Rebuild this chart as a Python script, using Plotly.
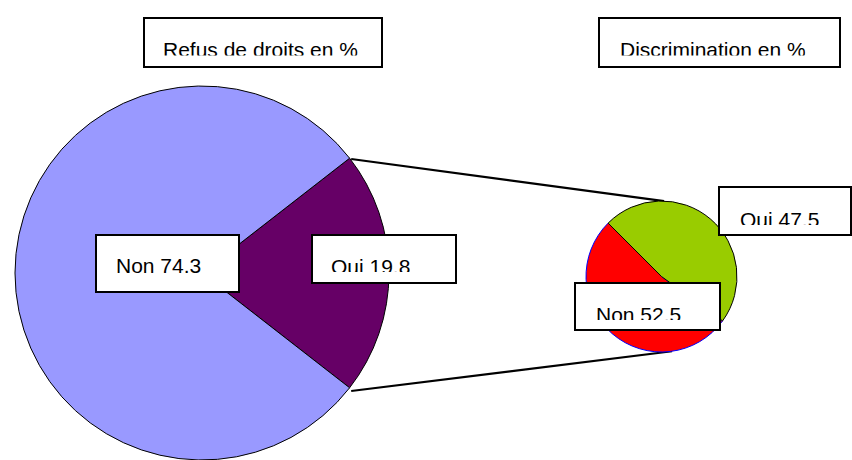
import math
import plotly.graph_objects as go

# ---- data ----
refus_labels = ["Oui", "Non"]
refus_values = [19.8, 74.3]
refus_colors = ["#660066", "#9999FF"]

discr_labels = ["Non", "Oui"]
discr_values = [52.5, 47.5]
discr_colors = ["#FF0000", "#99CC00"]

titles = ["Refus de droits en %", "Discrimination en %"]

W, H = 852, 460
FONT = "Liberation Sans, Arial, sans-serif"
FS = 21

fig = go.Figure()

# geometry (pixels)
big_cx, big_cy, big_r = 202, 275, 189
sm_cx, sm_cy, sm_r = 661.5, 276.5, 75.5


def dom_x(cx, r):
    return [(cx - r) / W, (cx + r) / W]


def dom_y(cy, r):
    top = max(cy - r, 0)
    bot = min(cy + r, H)
    return [1 - bot / H, 1 - top / H]


# big pie: "Oui" slice centred on 3 o'clock
oui_frac = refus_values[0] / sum(refus_values)
oui_span = 360 * oui_frac
big_rot = 90 - oui_span / 2

fig.add_trace(go.Pie(
    labels=refus_labels, values=refus_values, sort=False, direction="clockwise",
    rotation=big_rot, textinfo="none", hoverinfo="label+value",
    marker=dict(colors=refus_colors, line=dict(color="black", width=1)),
    domain=dict(x=dom_x(big_cx, big_r), y=dom_y(big_cy, big_r)),
    showlegend=False,
))

fig.add_trace(go.Pie(
    labels=discr_labels, values=discr_values, sort=False, direction="clockwise",
    rotation=126, textinfo="none", hoverinfo="label+value",
    marker=dict(colors=discr_colors, line=dict(color=["blue", "black"], width=1)),
    domain=dict(x=dom_x(sm_cx, sm_r), y=dom_y(sm_cy, sm_r)),
    showlegend=False,
))

# connector lines from the edges of the "Oui" slice to the small pie
a1 = math.radians(big_rot)
a2 = math.radians(big_rot + oui_span)
p1 = (big_cx + big_r * math.sin(a1), big_cy - big_r * math.cos(a1))
p2 = (big_cx + big_r * math.sin(a2), big_cy - big_r * math.cos(a2))
q1 = (sm_cx + sm_r * math.sin(math.radians(2)), sm_cy - sm_r * math.cos(math.radians(2)))
q2 = (sm_cx + sm_r * math.sin(math.radians(172)), sm_cy - sm_r * math.cos(math.radians(172)))
for a, b in [(p1, q1), (p2, q2)]:
    fig.add_trace(go.Scatter(x=[a[0], b[0]], y=[a[1], b[1]], mode="lines",
                             line=dict(color="black", width=2.2), hoverinfo="skip",
                             showlegend=False))

# text boxes: (text, box x0, y0, x1, y1, text left, cap top, clip y or None)
boxes = [
    (titles[0], 144, 18, 382, 67, 164, 42, 55.5),
    (titles[1], 599, 18, 840, 67, 621, 42, 55.5),
    (f"{refus_labels[1]} {refus_values[1]}", 96, 235, 239, 292, 117, 258, None),
    (f"{refus_labels[0]} {refus_values[0]}", 312, 235, 456, 283, 332, 259, 272),
    (f"{discr_labels[1]} {discr_values[1]}", 719, 187, 851, 235, 741, 212, 225),
    (f"{discr_labels[0]} {discr_values[0]}", 575, 283, 720, 330, 597, 307, 320),
]
ASC = 0.905 * FS
for text, x0, y0, x1, y1, tx, cap, clip in boxes:
    fig.add_shape(type="rect", xref="x", yref="y", x0=x0, y0=y0, x1=x1, y1=y1,
                  fillcolor="white", line=dict(color="black", width=2), layer="above")
    base = cap + 0.716 * FS
    top = base - ASC
    ann = dict(x=tx - 1, y=top, xref="x", yref="y", xanchor="left", yanchor="top",
               text=text, showarrow=False, font=dict(family=FONT, size=FS, color="black"),
               borderpad=0, borderwidth=0, valign="top", align="left")
    if clip is not None:
        ann["height"] = clip - top
    fig.add_annotation(**ann)

fig.update_layout(
    width=W, height=H, margin=dict(l=0, r=0, t=0, b=0),
    paper_bgcolor="white", plot_bgcolor="white",
    xaxis=dict(range=[0, W], visible=False, fixedrange=True),
    yaxis=dict(range=[H, 0], visible=False, fixedrange=True),
    showlegend=False,
)

fig.write_html(
    "out.html",
    config={"displayModeBar": False},
    post_script="document.body.style.margin='0';document.body.style.overflow='hidden';",
)
